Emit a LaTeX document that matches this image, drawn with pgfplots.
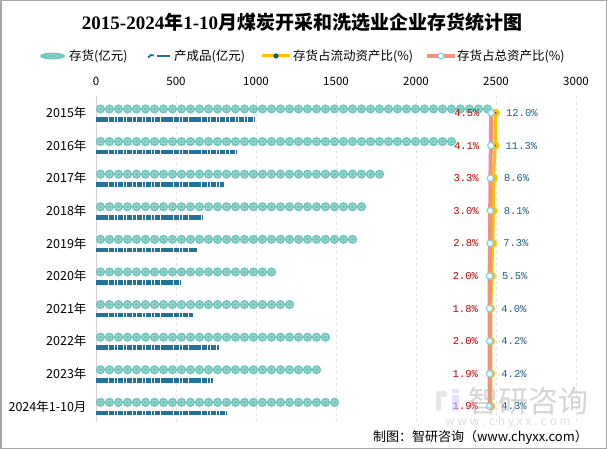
\documentclass[border=0pt]{standalone}
\usepackage{pgfplots}
\usepackage{pgfplotstable}
\pgfplotsset{compat=1.18}
\usepackage{fontspec}
\setmainfont{Noto Sans CJK SC}
\newfontfamily\tser{Liberation Serif}
\newfontfamily\tmono{Liberation Mono}

\definecolor{c1}{HTML}{6FC5BC}
\definecolor{c1r}{HTML}{A3D9D3}
\definecolor{c2}{HTML}{227399}
\definecolor{yel}{HTML}{FFC000}
\definecolor{sal}{HTML}{F0927C}
\definecolor{ring}{HTML}{86CFF0}
\definecolor{dotc}{HTML}{16597E}
\definecolor{redt}{HTML}{C00000}
\definecolor{bluet}{HTML}{1F5F7F}
\definecolor{gridc}{HTML}{E4E4E4}
\definecolor{framec}{HTML}{A6A6A6}

% i: row (0 = 2015), stock/fin in 1e8 yuan, tot/cur in %
\pgfplotstableread{
i stock fin tot cur
0 2456 994 4.5 12.0
1 2225 875 4.1 11.3
2 1825 800 3.3 8.6
3 1675 669 3.0 8.1
4 1606 631 2.8 7.3
5 1150 525 2.0 5.5
6 1237 606 1.8 4.0
7 1450 769 2.0 4.2
8 1412 731 1.9 4.2
9 1519 819 1.9 4.3
}\data

\pgfplotsset{/pgf/number format/assume math mode=true}

\begin{document}
\begin{tikzpicture}
\useasboundingbox (0,0) rectangle (607bp,449bp);
\draw[framec, line width=1.5bp] (0.75bp,0.75bp) rectangle (606.25bp,448.25bp);

\node[font=\fontsize{19bp}{20bp}\selectfont\bfseries] at (302bp,427bp)
  {{\tser\bfseries 2015-2024}年{\tser\bfseries 1-10}月煤炭开采和洗选业企业存货统计图};

% legend
\begin{scope}[every node/.style={anchor=west, inner sep=0pt, font=\fontsize{12.5bp}{13bp}\selectfont}]
\fill[c1] (52.5bp,393bp) ellipse (12.5bp and 3.4bp);
\draw[c1r, line width=0.6bp] (52.5bp,393bp) ellipse (6bp and 1.4bp);
\node at (69bp,393bp) {存货(亿元)};
\draw[c2, line width=1.8bp] (148bp,391.5bp)--(151bp,394bp)--(154bp,393.5bp);
\fill[c2] (157bp,391.8bp) rectangle (170bp,394.2bp);
\node at (174bp,393bp) {产成品(亿元)};
\draw[yel, line width=3bp] (262bp,393bp)--(290bp,393bp);
\fill[dotc] (276bp,393bp) circle (2.6bp);
\node at (293bp,393bp) {存货占流动资产比(\%)};
\draw[sal, line width=3.5bp] (427bp,393bp)--(455bp,393bp);
\draw[ring, fill=white, line width=1.2bp] (441bp,393bp) circle (3bp);
\node at (457bp,393bp) {存货占总资产比(\%)};
\end{scope}

\begin{axis}[
  at={(96bp,27bp)}, anchor=south west,
  scale only axis, width=480bp, height=326bp,
  xmin=0, xmax=3000, ymin=-0.52, ymax=9.48, y dir=reverse,
  axis x line=top, axis y line=left,
  axis line style={-},
  x axis line style={draw=none},
  y axis line style={draw=gray!35, line width=1bp},
  xtick={0,500,...,3000},
  xmajorgrids, major grid style={dashed, gridc, line width=0.7bp},
  major tick length=0, tick style={draw=none},
  /pgf/number format/1000 sep={},
  xticklabel style={font=\fontsize{11.5bp}{12bp}\selectfont, yshift=7bp},
  ytick={0,...,9},
  yticklabels={2015年,2016年,2017年,2018年,2019年,2020年,2021年,2022年,2023年,2024年1-10月},
  yticklabel style={font=\fontsize{12.5bp}{13bp}\selectfont, xshift=-6bp},
  clip=false,
]
\addplot[xcomb, draw=c1, line width=9.2bp, line cap=round, dash pattern=on 0pt off 9bp, dash phase=4.5bp, yshift=4bp]
  table[x=stock, y=i]{\data};
\addplot[xcomb, draw=c1r, line width=5.5bp, line cap=round, dash pattern=on 0pt off 9bp, dash phase=4.5bp, yshift=4bp]
  table[x=stock, y=i]{\data};
\addplot[xcomb, draw=c1, line width=3.8bp, line cap=round, dash pattern=on 0pt off 9bp, dash phase=4.5bp, yshift=4bp]
  table[x=stock, y=i]{\data};
\addplot[xcomb, draw=c2, line width=4.5bp, dash pattern=on 2.5bp off 0.8bp on 5.2bp off 0.8bp, yshift=-6.5bp]
  table[x=fin, y=i]{\data};
\end{axis}

\begin{axis}[
  at={(96bp,27bp)}, anchor=south west,
  scale only axis, width=480bp, height=326bp,
  xmin=-654, xmax=146, ymin=-0.52, ymax=9.48, y dir=reverse,
  hide axis, clip=false,
]
\addplot[yel, line width=3bp, mark=*, mark size=2.6bp, mark options={fill=dotc, draw=none},
  point meta=x,
  nodes near coords={\pgfmathprintnumber[fixed, fixed zerofill, precision=1]{\pgfplotspointmeta}\%},
  nodes near coords style={anchor=west, xshift=9bp, inner sep=0pt, text=bluet, font=\tmono\fontsize{10.5bp}{11bp}\selectfont}]
  table[x=cur, y=i]{\data};
\addplot[sal, line width=4bp, mark=*, mark size=3.2bp, mark options={fill=white, draw=ring, line width=1.2bp},
  point meta=x,
  nodes near coords={\pgfmathprintnumber[fixed, fixed zerofill, precision=1]{\pgfplotspointmeta}\%},
  nodes near coords style={anchor=east, xshift=-11bp, inner sep=0pt, text=redt, font=\tmono\fontsize{10.5bp}{11bp}\selectfont}]
  table[x=tot, y=i]{\data};
\end{axis}

% watermark
\begin{scope}[opacity=0.55]
\fill[gray!35, rounded corners=2bp] (436bp,52bp) rectangle (447bp,58bp);
\fill[gray!35, rounded corners=2bp] (436bp,38bp) rectangle (441bp,52bp);
\fill[blue!20] (452bp,38bp) rectangle (459bp,54bp);
\fill[blue!20] (452bp,56bp) rectangle (459bp,60bp);
\node[text=gray!60, font=\fontsize{30bp}{30bp}\selectfont, anchor=west, inner sep=0pt] at (468bp,48bp) {智研咨询};
\node[text=gray!50, font=\fontsize{12bp}{12bp}\selectfont] at (508bp,27bp) {w w w . c h y x x . c o m};
\end{scope}

\node[anchor=east, font=\fontsize{13bp}{14bp}\selectfont, inner sep=0pt] at (588bp,12bp) {制图：智研咨询（www.chyxx.com）};
\end{tikzpicture}
\end{document}
